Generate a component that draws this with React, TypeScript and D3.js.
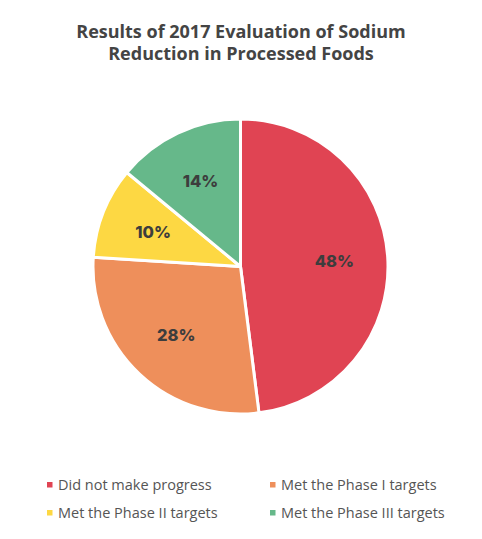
import React from "react";
import * as d3 from "d3";

const categories = [
  "Did not make progress",
  "Met the Phase I targets",
  "Met the Phase II targets",
  "Met the Phase III targets",
];
const values = [48, 28, 10, 14];
const colors = ["#E04453", "#EE8F5B", "#FDD843", "#66B88A"];
const titleLines = ["Results of 2017 Evaluation of Sodium", "Reduction in Processed Foods"];

const W = 482;
const H = 539;
const cx = 240.5;
const cy = 266.5;
const R = 147.5;

export default function App() {
  const pie = d3.pie<number>().value((d) => d).sort(null);
  const arcs = pie(values);
  const arc = d3.arc<d3.PieArcDatum<number>>().innerRadius(0).outerRadius(R);
  const labelArc = d3.arc<d3.PieArcDatum<number>>().innerRadius(94).outerRadius(94);

  const legendX = [47, 270];
  const legendY = [484.5, 512.5];

  return (
    <svg
      width={W}
      height={H}
      style={{ position: "absolute", left: 0, top: 0, background: "#fff" }}
    >
      {titleLines.map((t, i) => (
        <text
          key={i}
          x={241}
          y={38 + i * 22}
          textAnchor="middle"
          fontFamily="'Open Sans', sans-serif"
          fontWeight={700}
          fontSize={18}
          fill="#444444"
        >
          {t}
        </text>
      ))}
      <g transform={`translate(${cx},${cy})`}>
        {arcs.map((a, i) => (
          <path key={i} d={arc(a) || ""} fill={colors[i]} stroke="#fff" strokeWidth={3} strokeLinejoin="round" />
        ))}
        {arcs.map((a, i) => {
          const [x, y] = labelArc.centroid(a);
          return (
            <text
              key={"l" + i}
              x={x}
              y={y}
              textAnchor="middle"
              dominantBaseline="central"
              fontFamily="Inter, sans-serif"
              fontWeight={800}
              fontSize={16.5}
              fill="#3d3d3d"
            >
              {values[i]}%
            </text>
          );
        })}
      </g>
      {categories.map((c, i) => {
        const col = i % 2;
        const row = Math.floor(i / 2);
        const x = legendX[col];
        const y = legendY[row];
        return (
          <g key={"lg" + i}>
            <rect x={x} y={y - 2.5} width={5.5} height={5.5} fill={colors[i]} />
            <text
              x={x + 11}
              y={y + 5}
              fontFamily="'Open Sans', sans-serif"
              fontSize={14.5}
              fill="#555555"
            >
              {c}
            </text>
          </g>
        );
      })}
    </svg>
  );
}
